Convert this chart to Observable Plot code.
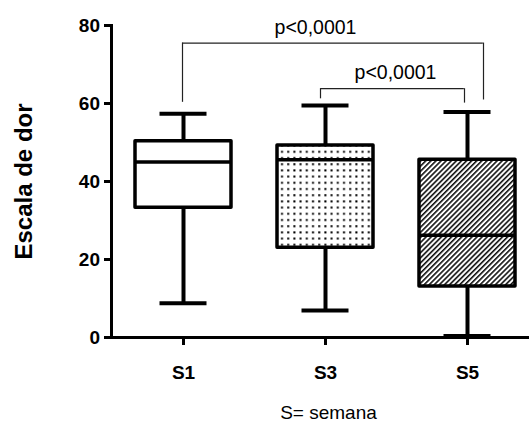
<!DOCTYPE html>
<html>
<head>
<meta charset="utf-8">
<script src="https://cdn.jsdelivr.net/npm/d3@7"></script>
<script src="https://cdn.jsdelivr.net/npm/@observablehq/plot@0.6"></script>
<style>
  html, body { margin: 0; padding: 0; background: #fff; }
  svg { display: block; }
</style>
</head>
<body>
<div id="chart"></div>
<script>
// ---- data ----
const weeks   = ["S1", "S3", "S5"];
const mins    = [8.8, 6.9, 0.4];
const q1s     = [33.3, 23.0, 13.1];
const medians = [45.0, 45.6, 26.2];
const q3s     = [50.3, 49.2, 45.6];
const maxs    = [57.4, 59.5, 57.8];
const yTicks  = [0, 20, 40, 60, 80];

const pLabels     = ["p<0,0001", "p<0,0001"];
const bracketFrom = ["S1", "S3"];
const bracketTo   = ["S5", "S5"];
const bracketTop  = [75.5, 63.8];
const legFromEnd  = [60.3, 61.2];
const legToEnd    = [60.9, 60.1];

const xLabel = "S= semana";
const yLabel = "Escala de dor";

// ---- styles ----
const fills = ["white", "url(#dots)", "url(#hatch)"];

const boxes = weeks.map((w, i) => ({
  week: w, min: mins[i], q1: q1s[i], median: medians[i], q3: q3s[i], max: maxs[i], fill: fills[i]
}));
const brackets = pLabels.map((p, i) => ({
  label: p, from: bracketFrom[i], to: bracketTo[i], top: bracketTop[i],
  fromEnd: legFromEnd[i], toEnd: legToEnd[i]
}));

// per-bracket pixel tweaks (style only)
const bracketStyle = [
  {fromDx: -1, toDx: 16, labelAt: "S3", labelDx: -10},
  {fromDx: -5, toDx: -3, labelAt: "S5", labelDx: -72}
];

const xRange = [111, 538];
const halfBand = (xRange[1] - xRange[0]) / weeks.length / 2;

function bracketMarks(b, s) {
  const thin = {stroke: "#222", strokeWidth: 1.2};
  return [
    Plot.ruleX([b], {x: "from", y1: "fromEnd", y2: "top", dx: s.fromDx, ...thin}),
    Plot.ruleX([b], {x: "to", y1: "toEnd", y2: "top", dx: s.toDx, ...thin}),
    Plot.ruleY([b], {x1: "from", x2: "to", y: "top",
      insetLeft: halfBand + s.fromDx, insetRight: halfBand - s.toDx, ...thin}),
    Plot.text([b], {x: () => s.labelAt, y: "top", text: "label", dx: s.labelDx, dy: -9.3,
      lineAnchor: "bottom", textAnchor: "middle", fontSize: 19.5, fill: "black"})
  ];
}

const inset = 23;
const capInset = 47.5;

const chart = Plot.plot({
  width: 529,
  height: 423,
  marginLeft: 111,
  marginRight: 0,
  marginTop: 25,
  marginBottom: 86,
  style: {fontFamily: "'Liberation Sans', Arial, Helvetica, sans-serif", color: "black", background: "white"},
  x: {domain: weeks, range: xRange, padding: 0, label: null},
  y: {domain: [0, 80], label: null},
  color: {type: "identity"},
  marks: [
    // whiskers
    Plot.ruleX(boxes, {x: "week", y1: "min", y2: "q1", stroke: "black", strokeWidth: 4}),
    Plot.ruleX(boxes, {x: "week", y1: "q3", y2: "max", stroke: "black", strokeWidth: 4}),
    // caps
    Plot.tickY(boxes, {x: "week", y: "min", stroke: "black", strokeWidth: 4, insetLeft: capInset, insetRight: capInset}),
    Plot.tickY(boxes, {x: "week", y: "max", stroke: "black", strokeWidth: 4, insetLeft: capInset, insetRight: capInset}),
    // boxes
    Plot.barY(boxes, {x: "week", y1: "q1", y2: "q3", fill: "fill", stroke: "black", strokeWidth: 3.5,
      strokeLinejoin: "round", insetLeft: inset, insetRight: inset}),
    // medians
    Plot.tickY(boxes, {x: "week", y: "median", stroke: "black", strokeWidth: 3.5, insetLeft: inset + 1, insetRight: inset + 1}),
    // brackets
    ...brackets.flatMap((b, i) => bracketMarks(b, bracketStyle[i])),
    // axes
    Plot.axisY({ticks: yTicks, tickSize: 7, tickPadding: 4.5, fontSize: 19, fontWeight: "bold",
      stroke: "black", strokeWidth: 3, label: null}),
    Plot.axisX({tickSize: 8, tickPadding: 20, fontSize: 19, fontWeight: "bold",
      stroke: "black", strokeWidth: 3, label: null}),
    Plot.frame({anchor: "left", stroke: "black", strokeWidth: 3}),
    Plot.ruleY([0], {stroke: "black", strokeWidth: 3}),
    // axis titles
    Plot.text([yLabel], {frameAnchor: "left", rotate: -90, dx: -80, lineAnchor: "bottom", textAnchor: "middle",
      fontSize: 24, fontWeight: "bold", fill: "black"}),
    Plot.text([xLabel], {frameAnchor: "bottom", dx: 8, dy: 81, lineAnchor: "bottom", textAnchor: "middle",
      fontSize: 19, fill: "black"})
  ]
});

// patterns
const svg = d3.select(chart);
const defs = svg.insert("defs", ":first-child");
const dots = defs.append("pattern").attr("id", "dots").attr("patternUnits", "userSpaceOnUse")
  .attr("width", 6.2).attr("height", 6.2);
dots.append("rect").attr("width", 6.2).attr("height", 6.2).attr("fill", "white");
dots.append("rect").attr("x", 2).attr("y", 2).attr("width", 2).attr("height", 2).attr("fill", "black");
const hatch = defs.append("pattern").attr("id", "hatch").attr("patternUnits", "userSpaceOnUse")
  .attr("width", 3.6).attr("height", 3.6).attr("patternTransform", "rotate(45)");
hatch.append("rect").attr("width", 3.6).attr("height", 3.6).attr("fill", "white");
hatch.append("line").attr("x1", 0.8).attr("y1", 0).attr("x2", 0.8).attr("y2", 3.6)
  .attr("stroke", "black").attr("stroke-width", 1.5);

document.getElementById("chart").appendChild(chart);
</script>
</body>
</html>
